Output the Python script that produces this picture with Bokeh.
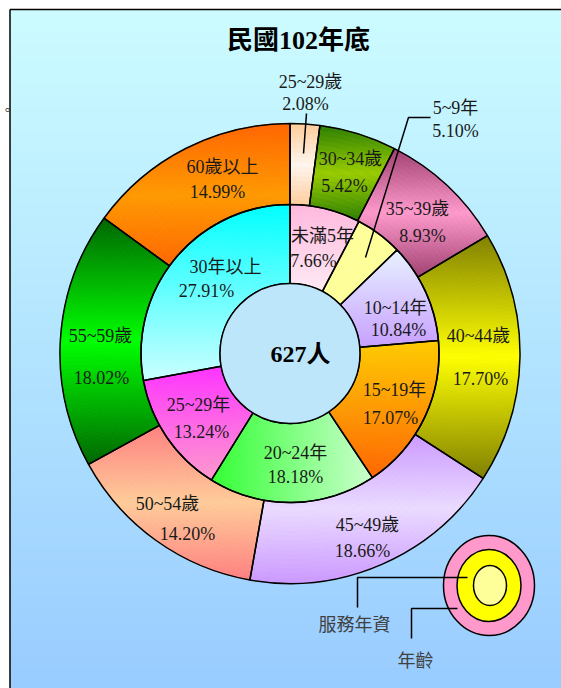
import numpy as np
from bokeh.plotting import figure
from bokeh.models import Range1d, ColumnDataSource
from bokeh.core.properties import value
from bokeh.embed import file_html
from bokeh.resources import INLINE

# ---------------- data ----------------
title_text = "民國102年底"
total_people = 627
total_unit = "人"

age_labels = ["25~29歲", "30~34歲", "35~39歲", "40~44歲",
              "45~49歲", "50~54歲", "55~59歲", "60歲以上"]
age_pct = [2.08, 5.42, 8.93, 17.70, 18.66, 14.20, 18.02, 14.99]

svc_labels = ["未滿5年", "5~9年", "10~14年", "15~19年",
              "20~24年", "25~29年", "30年以上"]
svc_pct = [7.66, 5.10, 10.84, 17.07, 18.18, 13.24, 27.91]

legend_labels = ["服務年資", "年齡"]
stray_mark = "。"

# ---------------- styles / layout ----------------
# gradient styles: (kind, colour at edge/start, colour at centre/end)
age_grads = [("sym_v", "#FFCC99", "#FFF5EE"),
             ("sym_v", "#2D7F00", "#99CC00"),
             ("sym_v", "#A04070", "#FF99CC"),
             ("sym_v", "#808000", "#FFFF00"),
             ("sym_v", "#CC99FF", "#EBDBFF"),
             ("sym_v", "#FF8080", "#FFCC99"),
             ("sym_v", "#006600", "#00FF00"),
             ("sym_v", "#FF6600", "#FF9900")]
svc_grads = [("lin_v", "#FFB8DD", "#FFEAF4"),
             ("lin_v", "#FFFF99", "#FFFF99"),
             ("lin_v", "#E8F2FF", "#C8A0FF"),
             ("lin_v", "#FFCC00", "#FF6600"),
             ("lin_h", "#33FF33", "#CCFFCC"),
             ("lin_v", "#FF33FF", "#FF99CC"),
             ("lin_v", "#00FFFF", "#CCFFFF")]
center_color = "#BDE6FA"

W, H = 561, 688


def px(x):
    return x


def py(y):
    return H - y


CX, CY = px(289.5), py(353)
R_OUT, R_MID, R_IN = 230, 149, 70

# label anchor positions (page pixels): (line1, line2)
age_label_pos = [((310, 81), (305, 103)), ((350, 158), (344, 185)),
                 ((417, 208), (422, 235)), ((478, 335), (480, 378)),
                 ((367, 524), (362, 550)), ((167, 503), (187, 533)),
                 ((100, 335), (101, 377)), ((222, 166), (217, 191))]
svc_label_pos = [((322, 235), (313, 260)), ((455, 107), (455, 130)),
                 ((395, 307), (398, 329)), ((394, 389), (390, 417)),
                 ((295, 452), (295, 476)), ((198, 404), (201, 431)),
                 ((225, 266), (206, 290))]

LABEL_FONT = "Liberation Serif, Noto Sans CJK TC"
SANS_FONT = "Noto Sans CJK TC"


def angles(pcts):
    c = np.concatenate([[0.0], np.cumsum(pcts)]) / float(np.sum(pcts))
    start = np.pi / 2 - 2 * np.pi * c[:-1]
    end = np.pi / 2 - 2 * np.pi * c[1:]
    return start, end


def hex2rgb(h):
    return np.array([int(h[i:i + 2], 16) for i in (1, 3, 5)], dtype=float)


def rgb2hex(c):
    c = np.clip(np.round(c), 0, 255).astype(int)
    return "#%02x%02x%02x" % tuple(c)


def gradient_cells(pcts, grads, r0, r1, dr=5.0, dang=np.radians(1.0)):
    start, end = angles(pcts)
    out = dict(ri=[], ro=[], a0=[], a1=[], color=[])
    nr = max(1, int(np.ceil((r1 - r0) / dr)))
    redges = np.linspace(r0, r1, nr + 1)
    rm = (redges[:-1] + redges[1:]) / 2
    for s, e, (kind, c1, c2) in zip(start, end, grads):
        na = max(1, int(np.ceil((s - e) / dang)))
        aedges = np.linspace(s, e, na + 1)
        am = (aedges[:-1] + aedges[1:]) / 2
        AE, RE = np.meshgrid(np.linspace(s, e, 4 * na + 1), redges)
        XE, YE = CX + RE * np.cos(AE), CY + RE * np.sin(AE)
        xmin, xmax, ymin, ymax = XE.min(), XE.max(), YE.min(), YE.max()
        k1, k2 = hex2rgb(c1), hex2rgb(c2)
        for i in range(nr):
            for j in range(na):
                x = CX + rm[i] * np.cos(am[j])
                y = CY + rm[i] * np.sin(am[j])
                if kind == "lin_h":
                    t = (x - xmin) / max(xmax - xmin, 1e-9)
                else:
                    t = (ymax - y) / max(ymax - ymin, 1e-9)
                if kind == "sym_v":
                    t = 1 - abs(2 * t - 1)
                out["ri"].append(redges[i])
                out["ro"].append(redges[i + 1])
                out["a0"].append(aedges[j])
                out["a1"].append(aedges[j + 1])
                out["color"].append(rgb2hex(k1 + (k2 - k1) * t))
    return out


p = figure(width=W, height=H, x_range=Range1d(0, W), y_range=Range1d(0, H),
           output_backend="svg", toolbar_location=None, min_border=0)
p.axis.visible = False
p.grid.visible = False
p.outline_line_color = None
p.background_fill_color = "white"
p.border_fill_color = "white"

# background gradient
n = 340
top = np.array([204, 252, 255], dtype=float)
bot = np.array([153, 204, 255], dtype=float)
t = np.linspace(0, 1, n)[:, None]
rgb = bot + (top - bot) * t
img = np.empty((n, 2), dtype=np.uint32)
view = img.view(dtype=np.uint8).reshape((n, 2, 4))
for k in range(3):
    view[:, :, k] = np.round(rgb[:, k:k + 1]).astype(np.uint8)
view[:, :, 3] = 255
x0 = px(9.5)
p.image_rgba(image=[img], x=x0, y=0, dw=W - x0, dh=py(9))

# frame lines
p.line([px(9.5), px(9.5)], [0, py(9)], line_color="black", line_width=1.5)
p.line([px(9.5), W], [py(9), py(9)], line_color="black", line_width=1.5)

# stray full stop left of the frame
p.text(x=[px(0)], y=[py(108)], text=[stray_mark], text_align="left",
       text_baseline="alphabetic", text_font=value(SANS_FONT),
       text_font_size="14px", text_color="#333333")

# ring fills (gradient cells built from the slice angles)
for pcts, grads, r0, r1 in ((age_pct, age_grads, R_MID, R_OUT),
                            (svc_pct, svc_grads, R_IN, R_MID)):
    cells = ColumnDataSource(gradient_cells(pcts, grads, r0, r1))
    p.annular_wedge(x=CX, y=CY, inner_radius="ri", outer_radius="ro",
                    start_angle="a0", end_angle="a1", direction="clock",
                    fill_color="color", line_color="color", line_width=0.8,
                    source=cells)

# slice outlines
a_s, a_e = angles(age_pct)
src_age = ColumnDataSource(dict(start=a_s, end=a_e, label=age_labels))
p.annular_wedge(x=CX, y=CY, inner_radius=R_MID, outer_radius=R_OUT,
                start_angle="start", end_angle="end", direction="clock",
                fill_color=None, line_color="black", line_width=1.5,
                source=src_age)
s_s, s_e = angles(svc_pct)
src_svc = ColumnDataSource(dict(start=s_s, end=s_e, label=svc_labels))
p.annular_wedge(x=CX, y=CY, inner_radius=R_IN, outer_radius=R_MID,
                start_angle="start", end_angle="end", direction="clock",
                fill_color=None, line_color="black", line_width=1.5,
                source=src_svc)

p.circle(x=[CX], y=[CY], radius=R_IN, fill_color=center_color,
         line_color="black", line_width=1.5)


# labels
def add_labels(labels, pcts, pos):
    xs, ys, txt = [], [], []
    for lab, v, ((x1, y1), (x2, y2)) in zip(labels, pcts, pos):
        xs += [px(x1), px(x2)]
        ys += [py(y1), py(y2)]
        txt += [lab, f"{v:.2f}%"]
    p.text(x=xs, y=ys, text=txt, text_align="center", text_baseline="middle",
           text_font=value(LABEL_FONT), text_font_size="18px", text_color="#1a1a1a")


add_labels(age_labels, age_pct, age_label_pos)
add_labels(svc_labels, svc_pct, svc_label_pos)

# leader lines for small slices
p.line([px(306), px(303)], [py(113), py(153)], line_color="black", line_width=1.5)
p.line([px(430), px(408), px(365)], [py(117), py(117), py(257)],
       line_color="black", line_width=1.5)

# center total
p.text(x=[px(300)], y=[py(353)], text=[f"{total_people}{total_unit}"],
       text_align="center", text_baseline="middle",
       text_font=value(LABEL_FONT), text_font_size="24px",
       text_font_style="bold", text_color="black")

# title
p.text(x=[px(298)], y=[py(40)], text=[title_text], text_align="center",
       text_baseline="middle", text_font=value(LABEL_FONT),
       text_font_size="26px", text_font_style="bold", text_color="black")

# mini legend donut
LX, LY = px(488.5), py(585)
p.ellipse(x=[LX], y=[LY], width=91, height=100, fill_color="#FF99CC",
          line_color="black", line_width=1.5)
p.ellipse(x=[LX], y=[LY], width=64, height=72, fill_color="#FFFF00",
          line_color="black", line_width=1.5)
p.ellipse(x=[LX + 1], y=[LY], width=33, height=40, fill_color="#FFFF99",
          line_color="black", line_width=1.5)
p.line([px(357), px(357), px(467)], [py(607), py(577), py(577)],
       line_color="black", line_width=1.5)
p.line([px(411), px(411), px(457)], [py(638), py(608), py(608)],
       line_color="black", line_width=1.5)
p.text(x=[px(354), px(415)], y=[py(622), py(658)], text=legend_labels,
       text_align="center", text_baseline="middle",
       text_font=value(SANS_FONT), text_font_size="18px", text_color="#404040")

open("out.html", "w").write(file_html(p, INLINE))
